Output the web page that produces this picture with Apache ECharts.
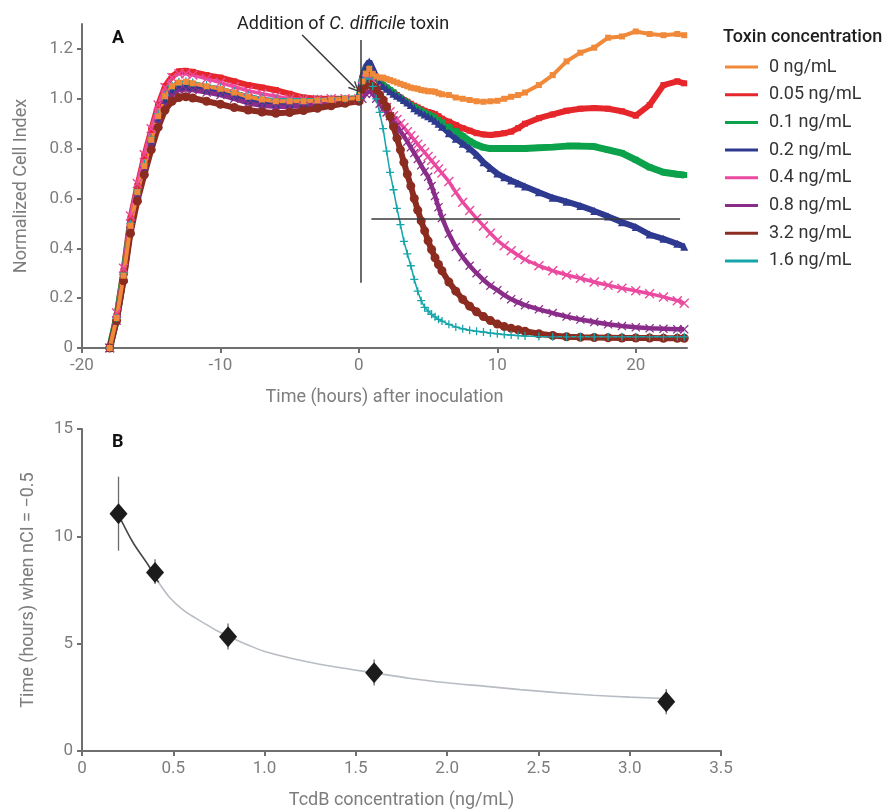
<!DOCTYPE html>
<html>
<head>
<meta charset="utf-8">
<script src="https://cdn.jsdelivr.net/npm/echarts@6/dist/echarts.min.js"></script>
<style>
  html, body { margin: 0; padding: 0; background: #fff; }
  #chart { width: 896px; height: 811px; }
</style>
</head>
<body>
<div id="chart"></div>
<script>
// ---- Panel A: normalized cell index over time ----
const hoursBefore = [-18, -17.5, -17, -16.5, -16, -15.5, -15, -14.5, -14, -13.5, -13, -12.5, -12,
  -11, -10, -9, -8, -7, -6, -5, -4, -3, -2, -1, 0];
const hoursAfter = [0.25, 0.5, 0.75, 1, 1.25, 1.5, 1.75, 2, 2.25, 2.5, 2.75, 3, 3.25, 3.5, 3.75, 4,
  4.25, 4.5, 4.75, 5, 5.25, 5.5, 5.75, 6,
  6.5, 7, 7.5, 8, 8.5, 9, 9.5, 10, 10.5, 11, 11.5, 12,
  13, 14, 15, 16, 17, 18, 19, 20, 21, 22, 23, 23.5];
const hours = hoursBefore.concat(hoursAfter);

const nci0 = [0.0, 0.12, 0.29, 0.49, 0.625, 0.73, 0.835, 0.93, 1.01, 1.05, 1.065, 1.068, 1.062,
  1.05, 1.04, 1.025, 1.008, 0.997, 0.99, 0.99, 0.99, 0.993, 0.996, 1.0, 1.003,
  1.07, 1.10, 1.12, 1.10, 1.09, 1.085, 1.085, 1.08, 1.075, 1.07, 1.065, 1.06, 1.055, 1.05, 1.045, 1.042,
  1.04, 1.035, 1.033, 1.03, 1.03, 1.028, 1.022, 1.018,
  1.015, 1.005, 1.0, 0.995, 0.99, 0.988, 0.99, 0.992, 1.0, 1.008, 1.015, 1.025,
  1.055, 1.095, 1.15, 1.185, 1.205, 1.245, 1.25, 1.27, 1.26, 1.255, 1.26, 1.255];
const nci005 = [0.0, 0.13, 0.31, 0.52, 0.65, 0.77, 0.875, 0.975, 1.05, 1.09, 1.11, 1.112, 1.108,
  1.095, 1.085, 1.07, 1.055, 1.045, 1.035, 1.02, 1.005, 1.0, 1.0, 1.0, 1.0,
  1.08, 1.11, 1.12, 1.10, 1.085, 1.07, 1.055, 1.045, 1.035, 1.025, 1.015, 1.005, 0.995, 0.988, 0.98, 0.972,
  0.965, 0.958, 0.952, 0.947, 0.943, 0.938, 0.93, 0.92,
  0.908, 0.895, 0.882, 0.872, 0.862, 0.857, 0.855, 0.858, 0.862, 0.868, 0.882, 0.9,
  0.922, 0.937, 0.952, 0.96, 0.963, 0.96, 0.95, 0.932, 0.975, 1.055, 1.07, 1.062];
const nci01 = [0.0, 0.12, 0.29, 0.49, 0.625, 0.73, 0.835, 0.93, 1.005, 1.045, 1.06, 1.062, 1.058,
  1.045, 1.035, 1.02, 1.005, 0.993, 0.985, 0.985, 0.985, 0.99, 0.993, 0.997, 1.0,
  1.08, 1.12, 1.13, 1.10, 1.085, 1.07, 1.055, 1.045, 1.035, 1.025, 1.012, 1.002, 0.992, 0.985, 0.975, 0.967,
  0.96, 0.952, 0.945, 0.938, 0.932, 0.925, 0.915, 0.905,
  0.888, 0.87, 0.85, 0.83, 0.815, 0.805, 0.8, 0.8, 0.8, 0.8, 0.8, 0.8,
  0.803, 0.806, 0.81, 0.81, 0.808, 0.795, 0.782, 0.755, 0.725, 0.705, 0.697, 0.694];
const nci02 = [0.0, 0.11, 0.28, 0.48, 0.615, 0.72, 0.825, 0.92, 0.995, 1.035, 1.05, 1.052, 1.048,
  1.035, 1.025, 1.01, 0.995, 0.985, 0.98, 0.98, 0.982, 0.987, 0.992, 0.997, 1.0,
  1.09, 1.13, 1.15, 1.12, 1.09, 1.065, 1.05, 1.04, 1.03, 1.02, 1.012, 1.005, 0.995, 0.985, 0.975, 0.962,
  0.953, 0.945, 0.937, 0.93, 0.922, 0.912, 0.9, 0.888,
  0.862, 0.84, 0.82, 0.8, 0.775, 0.745, 0.722, 0.7, 0.685, 0.672, 0.66, 0.648,
  0.625, 0.603, 0.587, 0.57, 0.55, 0.528, 0.505, 0.485, 0.455, 0.438, 0.418, 0.406];
const nci04 = [0.0, 0.14, 0.32, 0.53, 0.66, 0.775, 0.88, 0.975, 1.045, 1.085, 1.1, 1.1, 1.095,
  1.08, 1.065, 1.048, 1.032, 1.02, 1.01, 1.0, 0.997, 0.997, 1.0, 1.0, 1.0,
  1.05, 1.08, 1.09, 1.07, 1.04, 1.01, 0.985, 0.965, 0.948, 0.932, 0.917, 0.9, 0.885, 0.868, 0.852, 0.835,
  0.818, 0.8, 0.785, 0.768, 0.752, 0.735, 0.718, 0.702,
  0.668, 0.625, 0.585, 0.552, 0.52, 0.49, 0.46, 0.432, 0.41, 0.39, 0.372, 0.355,
  0.33, 0.31, 0.293, 0.28, 0.265, 0.252, 0.24, 0.23, 0.218, 0.205, 0.19, 0.18];
const nci08 = [0.0, 0.11, 0.28, 0.47, 0.6, 0.71, 0.81, 0.9, 0.975, 1.015, 1.035, 1.038, 1.035,
  1.025, 1.015, 1.0, 0.982, 0.972, 0.968, 0.968, 0.972, 0.978, 0.985, 0.99, 0.995,
  1.0, 1.02, 1.03, 1.02, 1.0, 0.98, 0.96, 0.945, 0.93, 0.913, 0.892, 0.87, 0.85, 0.828, 0.805, 0.782,
  0.758, 0.733, 0.708, 0.687, 0.65, 0.61, 0.565, 0.522,
  0.458, 0.405, 0.365, 0.33, 0.3, 0.273, 0.25, 0.232, 0.212, 0.196, 0.183, 0.172,
  0.155, 0.14, 0.126, 0.114, 0.104, 0.095, 0.088, 0.083, 0.079, 0.077, 0.075, 0.075];
const nci32 = [0.0, 0.11, 0.27, 0.46, 0.59, 0.695, 0.795, 0.885, 0.955, 0.99, 1.005, 1.008, 1.003,
  0.99, 0.978, 0.965, 0.955, 0.947, 0.942, 0.945, 0.953, 0.962, 0.972, 0.982, 0.99,
  1.04, 1.055, 1.06, 1.05, 1.037, 1.015, 0.995, 0.968, 0.93, 0.888, 0.842, 0.795, 0.745, 0.697, 0.65, 0.6,
  0.553, 0.51, 0.47, 0.43, 0.395, 0.362, 0.335, 0.31,
  0.265, 0.228, 0.195, 0.168, 0.145, 0.126, 0.11, 0.096, 0.086, 0.079, 0.073, 0.067,
  0.057, 0.05, 0.045, 0.043, 0.042, 0.041, 0.04, 0.04, 0.04, 0.039, 0.039, 0.039];
const nci16 = [0.0, 0.12, 0.3, 0.5, 0.635, 0.74, 0.845, 0.94, 1.015, 1.052, 1.068, 1.07, 1.065,
  1.055, 1.045, 1.03, 1.015, 1.005, 1.0, 1.0, 1.0, 1.0, 1.0, 1.0, 1.002,
  1.07, 1.08, 1.08, 1.05, 1.0, 0.945, 0.88, 0.79, 0.705, 0.635, 0.56, 0.495, 0.428, 0.378, 0.33, 0.275,
  0.228, 0.19, 0.163, 0.148, 0.135, 0.125, 0.115, 0.108,
  0.095, 0.084, 0.077, 0.071, 0.067, 0.064, 0.06, 0.057, 0.054, 0.052, 0.05, 0.048,
  0.046, 0.045, 0.045, 0.045, 0.045, 0.045, 0.045, 0.045, 0.045, 0.045, 0.045, 0.045];

const legendNames = ['0 ng/mL', '0.05 ng/mL', '0.1 ng/mL', '0.2 ng/mL',
  '0.4 ng/mL', '0.8 ng/mL', '3.2 ng/mL', '1.6 ng/mL'];

const hourTicks = [-20, -10, 0, 10, 20];
const nciTicks = [0, 0.2, 0.4, 0.6, 0.8, 1.0, 1.2];

// toxin addition marker, threshold line and annotation arrow (data units)
const additionLine = { hour: 0.1, from: 0.262, to: 1.236 };
const thresholdLine = { level: 0.52, from: 0.9, to: 23.2 };
const arrowPath = { start: [-4.1, 1.256], end: [-0.27, 1.043] };

// ---- Panel B: time to nCI threshold vs TcdB dose ----
const tcdbConc = [0.2, 0.4, 0.8, 1.6, 3.2];
const hoursToThreshold = [11.05, 8.32, 5.32, 3.64, 2.29];
const errLow = [9.33, 7.78, 4.73, 3.05, 1.71];
const errHigh = [12.78, 8.93, 5.94, 4.26, 2.89];
const fitConc = [0.2, 0.28, 0.36, 0.42, 0.48, 0.55, 0.62, 0.68, 0.74, 0.8, 0.92, 1.0, 1.2, 1.4, 1.6,
  1.8, 2.0, 2.2, 2.4, 2.6, 2.8, 3.0, 3.2];
const fitHours = [11.0, 9.7, 8.7, 7.85, 7.15, 6.6, 6.2, 5.9, 5.6, 5.35, 4.9, 4.64, 4.22, 3.9, 3.64,
  3.38, 3.18, 3.02, 2.86, 2.72, 2.6, 2.51, 2.44];
const concTicks = [0, 0.5, 1.0, 1.5, 2.0, 2.5, 3.0, 3.5];
const timeTicks = [0, 5, 10, 15];

const FONT = 'Roboto';
const AXIS_GRAY = '#6f6f6f';
const LABEL_GRAY = '#7d7d7d';

const X_SHAPE = 'path://M0,1 L1,0 L5,4 L9,0 L10,1 L6,5 L10,9 L9,10 L5,6 L1,10 L0,9 L4,5 Z';
const PLUS_SHAPE = 'path://M4.2,0 L5.8,0 L5.8,4.2 L10,4.2 L10,5.8 L5.8,5.8 L5.8,10 L4.2,10 L4.2,5.8 L0,5.8 L0,4.2 L4.2,4.2 Z';
const OPEN_ARROW = 'path://M5,0 L10,9 L8.8,9.7 L5,2.6 L1.2,9.7 L0,9 Z';

// drawing order (last on top)
const styles = [
  { name: '0.05 ng/mL', values: nci005, color: '#e5262b', symbol: 'rect', size: 6, width: 6 },
  { name: '0.1 ng/mL', values: nci01, color: '#0ca24b', symbol: 'rect', size: 6, width: 7 },
  { name: '0.2 ng/mL', values: nci02, color: '#2e3a8f', symbol: 'triangle', size: 8, width: 6 },
  { name: '0.4 ng/mL', values: nci04, color: '#ea4a9f', symbol: X_SHAPE, size: 10, width: 3.5 },
  { name: '0.8 ng/mL', values: nci08, color: '#8a2d8a', symbol: X_SHAPE, size: 9, width: 4.5 },
  { name: '3.2 ng/mL', values: nci32, color: '#8c2b20', symbol: 'circle', size: 9, width: 6 },
  { name: '1.6 ng/mL', values: nci16, color: '#15a5aa', symbol: PLUS_SHAPE, size: 8, width: 1.5 },
  { name: '0 ng/mL', values: nci0, color: '#f0893a', symbol: 'rect', size: 6, width: 4 }
];

const nciSeries = styles.map(s => ({
  name: s.name,
  type: 'line',
  xAxisIndex: 0,
  yAxisIndex: 0,
  data: hours.map((h, i) => [h, s.values[i]]),
  symbol: s.symbol,
  symbolSize: s.size,
  showSymbol: true,
  showAllSymbol: true,
  lineStyle: { color: s.color, width: s.width },
  itemStyle: { color: s.color },
  emphasis: { disabled: true },
  silent: true
}));

// annotation lines attached to the last-drawn series
nciSeries[nciSeries.length - 1].markLine = {
  silent: true,
  animation: false,
  symbol: 'none',
  label: { show: false },
  lineStyle: { color: '#3a3a3a', width: 1.5, type: 'solid' },
  data: [
    [{ coord: [additionLine.hour, additionLine.from] }, { coord: [additionLine.hour, additionLine.to] }],
    [{ coord: [thresholdLine.from, thresholdLine.level] }, { coord: [thresholdLine.to, thresholdLine.level] }],
    [{ coord: arrowPath.start, symbol: 'none' },
     { coord: arrowPath.end, symbol: OPEN_ARROW, symbolSize: [10, 11] }]
  ]
};

const numFmt = v => (v === 0 ? '0' : v.toFixed(1));

const fitDark = [], fitLight = [];
fitConc.forEach((c, i) => {
  if (c <= 0.42) fitDark.push([c, fitHours[i]]);
  if (c >= 0.42) fitLight.push([c, fitHours[i]]);
});

const axisCommon = {
  axisLine: { show: true, onZero: false, lineStyle: { color: AXIS_GRAY, width: 2 } },
  axisTick: { show: true, length: 5, lineStyle: { color: AXIS_GRAY, width: 2 } },
  splitLine: { show: false },
  nameTextStyle: { color: LABEL_GRAY, fontSize: 18, fontFamily: FONT }
};

const option = {
  animation: false,
  backgroundColor: '#ffffff',
  textStyle: { fontFamily: FONT },
  title: [
    { text: 'A', left: 107, top: 24, textStyle: { fontSize: 18, fontWeight: 'bold', color: '#111', fontFamily: FONT } },
    { text: 'B', left: 107, top: 428, textStyle: { fontSize: 18, fontWeight: 'bold', color: '#111', fontFamily: FONT } },
    {
      text: '{n|Addition of }{i|C. difficile}{n| toxin}', left: 232, top: 10,
      textStyle: {
        fontWeight: 'normal',
        rich: {
          n: { fontSize: 18, color: '#222', fontWeight: 'normal', fontFamily: FONT },
          i: { fontSize: 18, color: '#222', fontWeight: 'normal', fontStyle: 'italic', fontFamily: FONT }
        }
      }
    },
    { text: 'Toxin concentration', left: 718, top: 23, textStyle: { fontSize: 18, fontWeight: 500, color: '#1e1e1e', fontFamily: FONT } }
  ],
  legend: {
    data: legendNames,
    orient: 'vertical',
    left: 720,
    top: 51,
    icon: 'rect',
    itemWidth: 33,
    itemHeight: 3,
    itemGap: 5.7,
    selectedMode: false,
    textStyle: { fontSize: 18, color: '#333', fontFamily: FONT, lineHeight: 22, padding: [0, 0, 0, 6] }
  },
  grid: [
    { left: 82, top: 24, width: 605, height: 324 },
    { left: 82, top: 429, width: 639, height: 322 }
  ],
  xAxis: [
    Object.assign({}, axisCommon, {
      gridIndex: 0, type: 'value', min: -20, max: 23.7,
      name: 'Time (hours) after inoculation', nameLocation: 'middle', nameGap: 40,
      axisTick: { show: true, length: 5, customValues: hourTicks, lineStyle: { color: AXIS_GRAY, width: 2 } },
      axisLabel: { customValues: hourTicks, color: LABEL_GRAY, fontSize: 17, fontFamily: FONT, margin: 9 }
    }),
    Object.assign({}, axisCommon, {
      gridIndex: 1, type: 'value', min: 0, max: 3.5, interval: 0.5,
      name: 'TcdB concentration (ng/mL)', nameLocation: 'middle', nameGap: 40,
      axisTick: { show: true, length: 5, customValues: concTicks, lineStyle: { color: AXIS_GRAY, width: 2 } },
      axisLabel: { customValues: concTicks, color: LABEL_GRAY, fontSize: 17, fontFamily: FONT, margin: 9, formatter: numFmt }
    })
  ],
  yAxis: [
    Object.assign({}, axisCommon, {
      gridIndex: 0, type: 'value', min: 0, max: 1.3,
      name: 'Normalized Cell Index', nameLocation: 'middle', nameGap: 52,
      axisTick: { show: true, length: 5, customValues: nciTicks, lineStyle: { color: AXIS_GRAY, width: 2 } },
      axisLabel: { customValues: nciTicks, color: LABEL_GRAY, fontSize: 17, fontFamily: FONT, margin: 9, formatter: numFmt }
    }),
    Object.assign({}, axisCommon, {
      gridIndex: 1, type: 'value', min: 0, max: 15, interval: 5,
      name: 'Time (hours) when nCI = \u22120.5', nameLocation: 'middle', nameGap: 45,
      axisTick: { show: true, length: 5, customValues: timeTicks, lineStyle: { color: AXIS_GRAY, width: 2 } },
      axisLabel: { customValues: timeTicks, color: LABEL_GRAY, fontSize: 17, fontFamily: FONT, margin: 9 }
    })
  ],
  series: nciSeries.concat([
    {
      type: 'line', xAxisIndex: 1, yAxisIndex: 1, data: fitLight, smooth: 0.3,
      showSymbol: false, silent: true,
      lineStyle: { color: '#b8bcc3', width: 1.6 }
    },
    {
      type: 'line', xAxisIndex: 1, yAxisIndex: 1, data: fitDark, smooth: 0.3,
      showSymbol: false, silent: true,
      lineStyle: { color: '#474747', width: 1.6 }
    },
    {
      type: 'custom', xAxisIndex: 1, yAxisIndex: 1, silent: true,
      data: tcdbConc.map((c, i) => [c, errLow[i], errHigh[i]]),
      encode: { x: 0, y: [1, 2] },
      renderItem: (params, api) => {
        const c = api.value(0);
        const p1 = api.coord([c, api.value(1)]);
        const p2 = api.coord([c, api.value(2)]);
        return {
          type: 'line',
          shape: { x1: p1[0], y1: p1[1], x2: p2[0], y2: p2[1] },
          style: { stroke: '#6b6b6b', lineWidth: 1.3 }
        };
      }
    },
    {
      type: 'scatter', xAxisIndex: 1, yAxisIndex: 1, silent: true,
      data: tcdbConc.map((c, i) => [c, hoursToThreshold[i]]),
      symbol: 'diamond', symbolSize: [18, 21],
      itemStyle: { color: '#1c1c1c', opacity: 1 }, z: 5
    }
  ])
};

const chart = echarts.init(document.getElementById('chart'), null, { renderer: 'canvas' });
chart.setOption(option);
</script>
</body>
</html>
